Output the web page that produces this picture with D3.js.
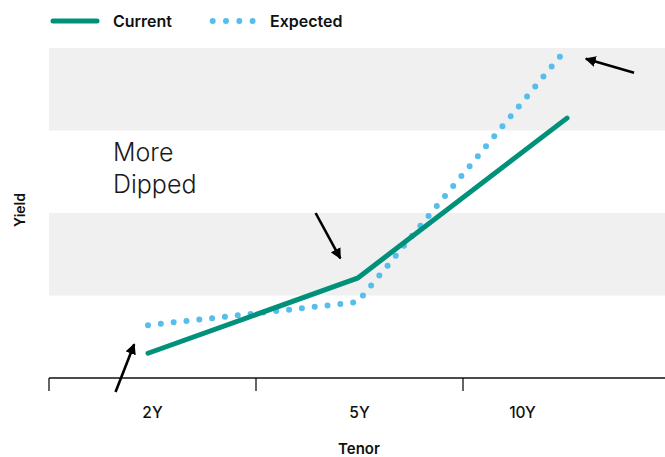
<!DOCTYPE html>
<html>
<head>
<meta charset="utf-8">
<script src="https://cdn.jsdelivr.net/npm/d3@7"></script>
<style>
  html, body { margin: 0; padding: 0; background: #fff; }
  svg { display: block; font-family: Inter, "Open Sans", sans-serif; }
</style>
</head>
<body>
<svg id="chart" width="665" height="457"></svg>
<script>
// Yield curve: current vs expected, by tenor
const tenors = ["2Y", "5Y", "10Y"];
const currentYield = [0.30, 1.21, 3.15];
const expectedYield = [0.64, 0.92, 4.00];
const yieldTicks = [0, 1, 2, 3, 4];

// Arrow annotations in data space: [tenor index, yield]
const arrows = [
  { from: [-0.155, -0.17], to: [-0.066, 0.41] },
  { from: [0.80, 2.00], to: [0.918, 1.45] },
  { from: [2.32, 3.70], to: [2.09, 3.87] }
];
const noteLines = ["More", "Dipped"];

const svg = d3.select("#chart");

const plot = { left: 49, right: 665, top: 48, bottom: 378 };

// Category bands for the axis ticks / labels
const xBand = d3.scaleBand().domain(tenors).range([plot.left, 670]);
// Continuous position by tenor index for marks
const xIdx = d3.scaleLinear().domain([0, 2]).range([148, 567]);
const y = d3.scaleLinear().domain([0, 4]).range([plot.bottom, plot.top]);

// Alternating background bands
const bandPairs = d3.pairs(yieldTicks).filter((d, i) => i % 2 === 1);
svg.append("g").selectAll("rect").data(bandPairs).join("rect")
  .attr("x", plot.left)
  .attr("width", plot.right - plot.left)
  .attr("y", d => y(d[1]))
  .attr("height", d => y(d[0]) - y(d[1]))
  .attr("fill", "#f0f0f0");

// X axis: line with ticks at band starts
const axisG = svg.append("g").attr("transform", `translate(0,${plot.bottom})`);
axisG.append("line")
  .attr("x1", plot.left).attr("x2", plot.right)
  .attr("stroke", "#111").attr("stroke-width", 1.3);
axisG.selectAll("line.tick").data(tenors).join("line")
  .attr("class", "tick")
  .attr("x1", d => xBand(d)).attr("x2", d => xBand(d))
  .attr("y1", 0).attr("y2", 13)
  .attr("stroke", "#111").attr("stroke-width", 1.3);

const labelAxis = d3.axisBottom(xBand).tickSize(0).tickPadding(0);
const lab = svg.append("g")
  .attr("transform", `translate(0,${plot.bottom + 40})`)
  .call(labelAxis);
lab.select(".domain").remove();
lab.selectAll("text")
  .attr("dy", 0)
  .attr("font-family", "Inter, sans-serif")
  .attr("font-size", 15.5)
  .attr("font-weight", 500)
  .attr("fill", "#111")
  .attr("x", (d, i) => i === tenors.length - 1 ? -44 : 0);

// Axis titles
svg.append("text")
  .attr("x", 359).attr("y", 454)
  .attr("text-anchor", "middle")
  .attr("font-size", 15).attr("font-weight", 600).attr("fill", "#111")
  .text("Tenor");
svg.append("text")
  .attr("transform", "translate(25,210) rotate(-90)")
  .attr("text-anchor", "middle")
  .attr("font-size", 14).attr("font-weight", 600).attr("fill", "#111")
  .text("Yield");

// Lines
const line = d3.line().x((d, i) => xIdx(i)).y(d => y(d));
svg.append("path")
  .datum(expectedYield)
  .attr("d", line)
  .attr("fill", "none")
  .attr("stroke", "#56bdec")
  .attr("stroke-width", 6)
  .attr("stroke-linecap", "round")
  .attr("stroke-dasharray", "0 12.9");
svg.append("path")
  .datum(currentYield)
  .attr("d", line)
  .attr("fill", "none")
  .attr("stroke", "#00917a")
  .attr("stroke-width", 5)
  .attr("stroke-linecap", "round")
  .attr("stroke-linejoin", "round");

// Annotation text
svg.append("text")
  .attr("x", xIdx(-0.167)).attr("y", 161)
  .attr("font-size", 25).attr("font-weight", 300).attr("fill", "#1a1a1a")
  .selectAll("tspan").data(noteLines).join("tspan")
  .attr("x", xIdx(-0.167))
  .attr("dy", (d, i) => i === 0 ? 0 : 32)
  .text(d => d);

// Arrows
const defs = svg.append("defs");
defs.append("marker")
  .attr("id", "head")
  .attr("viewBox", "0 0 10 10")
  .attr("refX", 9).attr("refY", 5)
  .attr("markerWidth", 4.2).attr("markerHeight", 4.2)
  .attr("markerUnits", "strokeWidth")
  .attr("orient", "auto")
  .append("path")
  .attr("d", "M0,0 L10,5 L0,10 Z")
  .attr("fill", "#000");
svg.append("g").selectAll("line").data(arrows).join("line")
  .attr("x1", d => xIdx(d.from[0])).attr("y1", d => y(d.from[1]))
  .attr("x2", d => xIdx(d.to[0])).attr("y2", d => y(d.to[1]))
  .attr("stroke", "#000").attr("stroke-width", 2.6)
  .attr("marker-end", "url(#head)");

// Legend
const leg = svg.append("g");
leg.append("line")
  .attr("x1", 53).attr("x2", 97).attr("y1", 21).attr("y2", 21)
  .attr("stroke", "#00917a").attr("stroke-width", 5).attr("stroke-linecap", "round");
leg.append("text")
  .attr("x", 113).attr("y", 26.5)
  .attr("font-size", 16).attr("font-weight", 600).attr("fill", "#111")
  .text("Current");
leg.append("line")
  .attr("x1", 212.7).attr("x2", 253).attr("y1", 21).attr("y2", 21)
  .attr("stroke", "#56bdec").attr("stroke-width", 6)
  .attr("stroke-linecap", "round").attr("stroke-dasharray", "0 13.3");
leg.append("text")
  .attr("x", 270).attr("y", 26.5)
  .attr("font-size", 16).attr("font-weight", 600).attr("fill", "#111")
  .text("Expected");
</script>
</body>
</html>
